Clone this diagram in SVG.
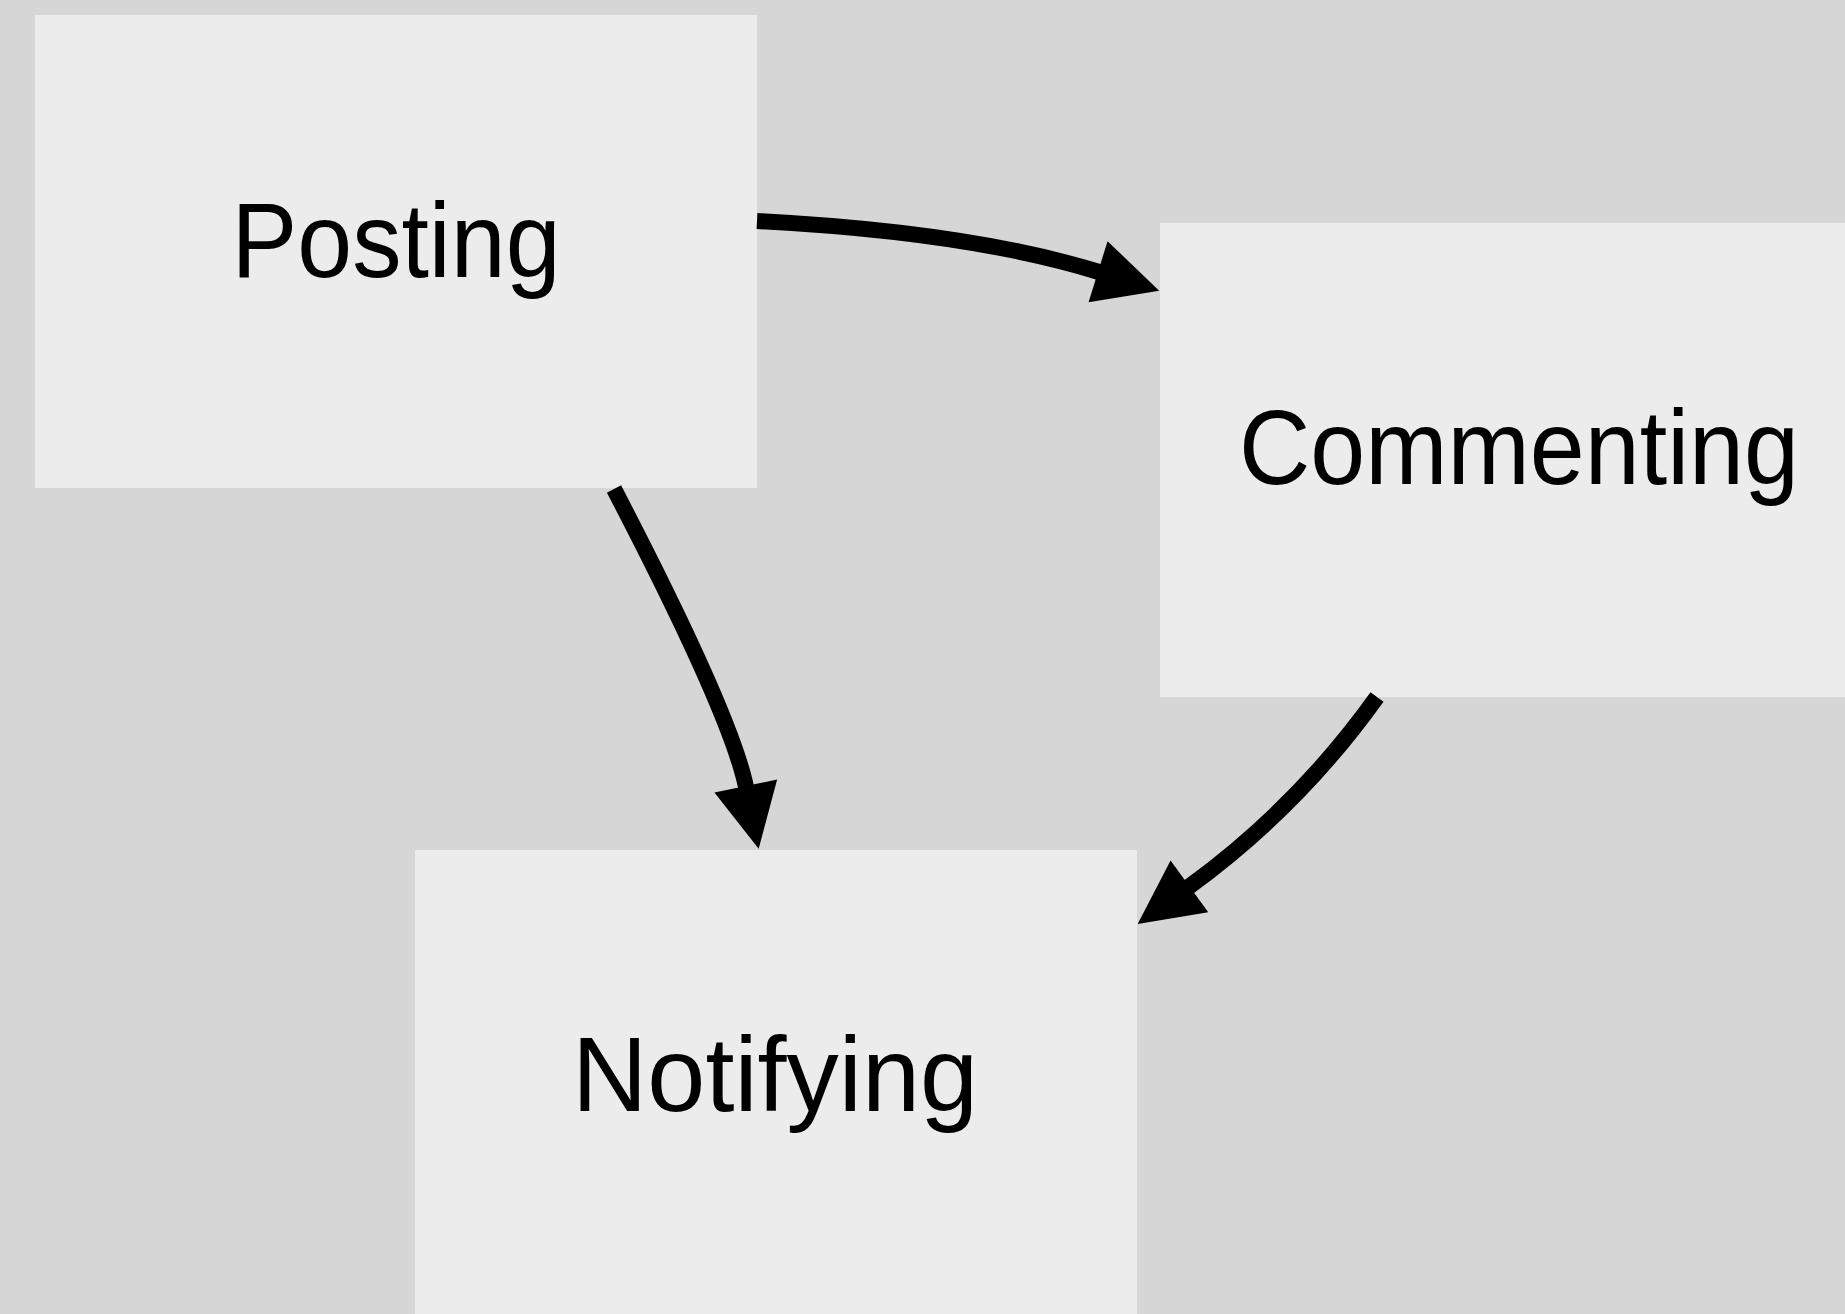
<svg xmlns="http://www.w3.org/2000/svg" width="1845" height="1314" viewBox="0 0 1845 1314">
<style>
.box{fill:#ececec;}
.lbl{font-family:"Liberation Sans","Noto Sans",sans-serif;font-size:106px;fill:#000;text-anchor:middle;}
.edge{fill:none;stroke:#000;stroke-width:16;stroke-linecap:butt;marker-end:url(#arrow);}
</style>
<defs>
<marker id="arrow" markerUnits="userSpaceOnUse" markerWidth="66" markerHeight="66" refX="1" refY="32" orient="auto" overflow="visible">
<path d="M0,0 L64,32 L0,64 Z" fill="#000"/>
</marker>
</defs>
<rect width="1845" height="1314" fill="#d6d6d6"/>
<g id="node-posting">
<rect class="box" x="35" y="15" width="722" height="473"/>
<text class="lbl" x="396" y="277" textLength="329" lengthAdjust="spacingAndGlyphs">Posting</text>
</g>
<g id="node-commenting">
<rect class="box" x="1160" y="223" width="722" height="474"/>
<text class="lbl" x="1519" y="484" textLength="560" lengthAdjust="spacingAndGlyphs">Commenting</text>
</g>
<g id="node-notifying">
<rect class="box" x="415" y="850" width="722" height="474"/>
<text class="lbl" x="775" y="1111" textLength="406" lengthAdjust="spacingAndGlyphs">Notifying</text>
</g>
<g id="connectors">
<path class="edge" d="M757,221 Q970,232 1099,272"/>
<path class="edge" d="M614,489 Q731,714 746,787"/>
<path class="edge" d="M1377,697 A837,837 0 0 1 1188.6,887"/>
</g>
</svg>
